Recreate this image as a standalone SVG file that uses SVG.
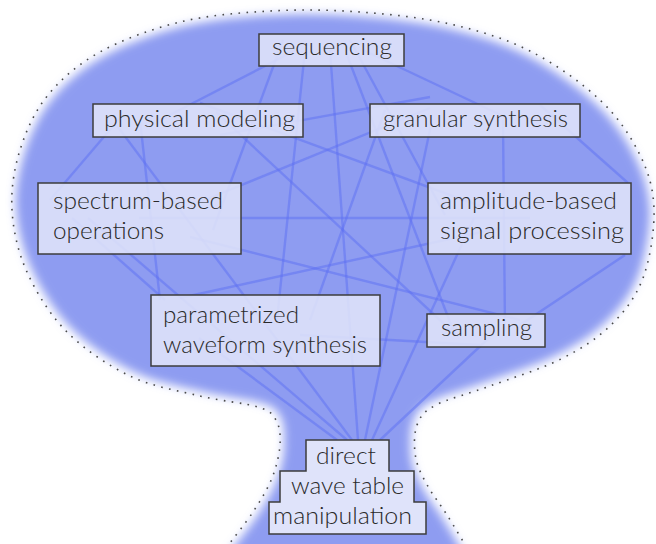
<svg xmlns="http://www.w3.org/2000/svg" width="656" height="544" viewBox="0 0 656 544">
<style>
.box{fill:#e2e5fa;fill-opacity:0.86;stroke:#3c3c3c;stroke-width:1.5}
.lbl{font-family:Lato,"Liberation Sans",sans-serif;font-size:23px;font-weight:300;fill:#2a2a2a}
.edge{stroke:#5d70f3;stroke-opacity:0.5;stroke-width:2.4;fill:none}
</style>
<defs>
<filter id="soft" filterUnits="userSpaceOnUse" x="-40" y="-40" width="736" height="660">
<feMorphology operator="erode" radius="4"/>
<feGaussianBlur stdDeviation="5"/>
</filter>
<filter id="lb" filterUnits="userSpaceOnUse" x="0" y="0" width="656" height="544">
<feGaussianBlur stdDeviation="0.7"/>
</filter>
</defs>
<rect width="656" height="544" fill="#ffffff"/>
<g id="blob">
<path filter="url(#soft)" fill="#8e9cf1" d="M226,548 C230.5,542 245.3,523.7 253,512 C260.7,500.3 267.5,489.2 272,478 C276.5,466.8 279.3,454.7 280,445 C280.7,435.3 279.7,426.3 276,420 C272.3,413.7 270.7,411 258,407 C245.3,403 221.3,401.2 200,396 C178.7,390.8 152.2,386.7 130,376 C107.8,365.3 84.2,349.3 67,332 C49.8,314.7 36.2,292.3 27,272 C17.8,251.7 13.2,230.3 12,210 C10.8,189.7 14,169.2 20,150 C26,130.8 34.7,111.3 48,95 C61.3,78.7 78,64.2 100,52 C122,39.8 151.7,28.8 180,22 C208.3,15.2 240,12.7 270,11 C300,9.3 330,9.8 360,12 C390,14.2 421.7,17.5 450,24 C478.3,30.5 505,38.3 530,51 C555,63.7 581.7,82.7 600,100 C618.3,117.3 631,136.7 640,155 C649,173.3 653.5,189.5 654,210 C654.5,230.5 650.2,258.8 643,278 C635.8,297.2 624.7,311.5 611,325 C597.3,338.5 581.2,348.8 561,359 C540.8,369.2 510.8,378.3 490,386 C469.2,393.7 448.2,398.5 436,405 C423.8,411.5 420.3,416 417,425 C413.7,434 413.8,448.2 416,459 C418.2,469.8 424.8,480.7 430,490 C436.2,499.3 440.8,505.3 447,515 C453.2,524.7 463.7,542.5 467,548 L475,600 L220,600 Z"/>
<path fill="none" stroke="#4a4a4a" stroke-width="1.6" stroke-dasharray="1.6 6.4" d="M226,548 C230.5,542 245.3,523.7 253,512 C260.7,500.3 267.5,489.2 272,478 C276.5,466.8 279.3,454.7 280,445 C280.7,435.3 279.7,426.3 276,420 C272.3,413.7 270.7,411 258,407 C245.3,403 221.3,401.2 200,396 C178.7,390.8 152.2,386.7 130,376 C107.8,365.3 84.2,349.3 67,332 C49.8,314.7 36.2,292.3 27,272 C17.8,251.7 13.2,230.3 12,210 C10.8,189.7 14,169.2 20,150 C26,130.8 34.7,111.3 48,95 C61.3,78.7 78,64.2 100,52 C122,39.8 151.7,28.8 180,22 C208.3,15.2 240,12.7 270,11 C300,9.3 330,9.8 360,12 C390,14.2 421.7,17.5 450,24 C478.3,30.5 505,38.3 530,51 C555,63.7 581.7,82.7 600,100 C618.3,117.3 631,136.7 640,155 C649,173.3 653.5,189.5 654,210 C654.5,230.5 650.2,258.8 643,278 C635.8,297.2 624.7,311.5 611,325 C597.3,338.5 581.2,348.8 561,359 C540.8,369.2 510.8,378.3 490,386 C469.2,393.7 448.2,398.5 436,405 C423.8,411.5 420.3,416 417,425 C413.7,434 413.8,448.2 416,459 C418.2,469.8 424.8,480.7 430,490 C436.2,499.3 440.8,505.3 447,515 C453.2,524.7 463.7,542.5 467,548"/>
</g>
<g id="connectors" class="edge" filter="url(#lb)">
<line x1="296" y1="50" x2="160" y2="120"/>
<line x1="363" y1="50" x2="505" y2="117"/>
<line x1="283" y1="40" x2="213" y2="230"/>
<line x1="350" y1="40" x2="445" y2="215"/>
<line x1="305" y1="50" x2="277" y2="320"/>
<line x1="345" y1="50" x2="455" y2="335"/>
<line x1="330" y1="50" x2="358" y2="440"/>
<line x1="220" y1="135" x2="430" y2="97"/>
<line x1="120" y1="118" x2="50" y2="200"/>
<line x1="200" y1="103" x2="480" y2="206"/>
<line x1="140" y1="120" x2="160" y2="300"/>
<line x1="216" y1="112" x2="456" y2="335"/>
<line x1="115" y1="123" x2="352" y2="440"/>
<line x1="430" y1="108" x2="200" y2="202"/>
<line x1="540" y1="105" x2="628" y2="183"/>
<line x1="385" y1="110" x2="310" y2="320"/>
<line x1="503" y1="120" x2="505" y2="330"/>
<line x1="432" y1="120" x2="365" y2="440"/>
<line x1="139" y1="218" x2="530" y2="218"/>
<line x1="72" y1="218" x2="165" y2="300"/>
<line x1="190" y1="237" x2="520" y2="320"/>
<line x1="88" y1="218" x2="347" y2="440"/>
<line x1="500" y1="228" x2="180" y2="298"/>
<line x1="625" y1="255" x2="520" y2="325"/>
<line x1="474" y1="218" x2="372" y2="440"/>
<line x1="300" y1="335" x2="480" y2="345"/>
<line x1="199" y1="338" x2="337" y2="440"/>
<line x1="490" y1="337" x2="380" y2="440"/>
</g>
<g id="sequencing"><rect class="box" x="259" y="34" width="145" height="32"/><text class="lbl" x="272" y="55" textLength="120" lengthAdjust="spacingAndGlyphs">sequencing</text></g>
<g id="physical-modeling"><rect class="box" x="93" y="104" width="210" height="33"/><text class="lbl" x="104" y="127" textLength="191" lengthAdjust="spacingAndGlyphs">physical modeling</text></g>
<g id="granular-synthesis"><rect class="box" x="370" y="104" width="210" height="33"/><text class="lbl" x="383" y="127" textLength="185" lengthAdjust="spacingAndGlyphs">granular synthesis</text></g>
<g id="spectrum-based"><rect class="box" x="38" y="183" width="203" height="71"/><text class="lbl" x="53" y="209" textLength="170" lengthAdjust="spacingAndGlyphs">spectrum-based</text><text class="lbl" x="53" y="239" textLength="111" lengthAdjust="spacingAndGlyphs">operations</text></g>
<g id="amplitude-based"><rect class="box" x="428" y="183" width="203" height="71"/><text class="lbl" x="440" y="209" textLength="177" lengthAdjust="spacingAndGlyphs">amplitude-based</text><text class="lbl" x="440" y="239" textLength="184" lengthAdjust="spacingAndGlyphs">signal processing</text></g>
<g id="parametrized"><rect class="box" x="151" y="295" width="229" height="71"/><text class="lbl" x="163" y="323" textLength="136" lengthAdjust="spacingAndGlyphs">parametrized</text><text class="lbl" x="163" y="353" textLength="204" lengthAdjust="spacingAndGlyphs">waveform synthesis</text></g>
<g id="sampling"><rect class="box" x="427" y="314" width="118" height="33"/><text class="lbl" x="441" y="336" textLength="91" lengthAdjust="spacingAndGlyphs">sampling</text></g>
<g id="direct"><path class="box" style="fill-opacity:0.97" d="M306,440 L389,440 L389,471 L414,471 L414,502 L426,502 L426,534 L269,534 L269,502 L280,502 L280,471 L306,471 Z"/><text class="lbl" x="316" y="464" textLength="60" lengthAdjust="spacingAndGlyphs">direct</text><text class="lbl" x="291" y="494" textLength="113" lengthAdjust="spacingAndGlyphs">wave table</text><text class="lbl" x="273" y="524" textLength="139" lengthAdjust="spacingAndGlyphs">manipulation</text></g>
</svg>
